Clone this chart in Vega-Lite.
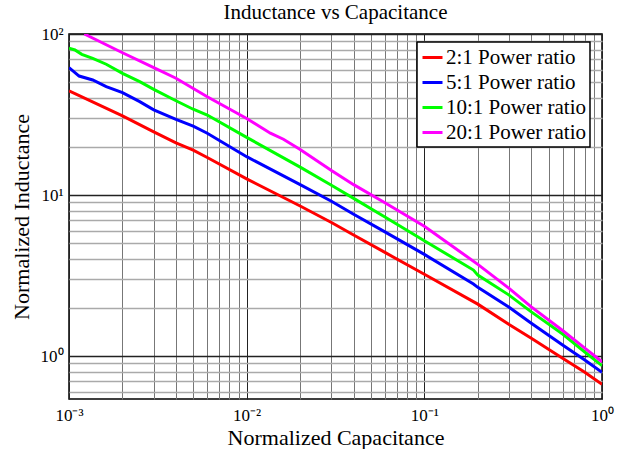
{
  "$schema": "https://vega.github.io/schema/vega-lite/v6.json",
  "autosize": "none",
  "width": 533,
  "height": 365,
  "padding": {"left": 69, "top": 34, "right": 26, "bottom": 50},
  "background": "white",
  "title": {"text": "Inductance vs Capacitance", "font": "Liberation Serif", "fontSize": 21, "fontWeight": "normal", "color": "#000", "anchor": "middle", "offset": 2},
  "config": {
    "view": {"stroke": "#000", "strokeWidth": 1.5},
    "legend": {"strokeWidth": 1.5},
    "axis": {"labelFont": "Liberation Serif", "titleFont": "Liberation Serif", "labelColor": "#000", "titleColor": "#000", "titleFontWeight": "normal", "domain": false, "ticks": false}
  },
  "data": {"values": [
    {"C": 0.001, "L": 44.3, "series": "2:1 Power ratio"},
    {"C": 0.002, "L": 31.0, "series": "2:1 Power ratio"},
    {"C": 0.003, "L": 24.7, "series": "2:1 Power ratio"},
    {"C": 0.004, "L": 21.1, "series": "2:1 Power ratio"},
    {"C": 0.005, "L": 19.0, "series": "2:1 Power ratio"},
    {"C": 0.006, "L": 17.1, "series": "2:1 Power ratio"},
    {"C": 0.01, "L": 12.6, "series": "2:1 Power ratio"},
    {"C": 0.02, "L": 8.55, "series": "2:1 Power ratio"},
    {"C": 0.03, "L": 6.75, "series": "2:1 Power ratio"},
    {"C": 0.04, "L": 5.65, "series": "2:1 Power ratio"},
    {"C": 0.06, "L": 4.4, "series": "2:1 Power ratio"},
    {"C": 0.1, "L": 3.22, "series": "2:1 Power ratio"},
    {"C": 0.2, "L": 2.1, "series": "2:1 Power ratio"},
    {"C": 0.3, "L": 1.57, "series": "2:1 Power ratio"},
    {"C": 0.4, "L": 1.29, "series": "2:1 Power ratio"},
    {"C": 0.6, "L": 0.968, "series": "2:1 Power ratio"},
    {"C": 0.8, "L": 0.792, "series": "2:1 Power ratio"},
    {"C": 1.0, "L": 0.667, "series": "2:1 Power ratio"},
    {"C": 0.001, "L": 61.8, "series": "5:1 Power ratio"},
    {"C": 0.00114, "L": 54.8, "series": "5:1 Power ratio"},
    {"C": 0.00136, "L": 51.8, "series": "5:1 Power ratio"},
    {"C": 0.00162, "L": 47.1, "series": "5:1 Power ratio"},
    {"C": 0.002, "L": 43.2, "series": "5:1 Power ratio"},
    {"C": 0.0025, "L": 38.0, "series": "5:1 Power ratio"},
    {"C": 0.003, "L": 33.8, "series": "5:1 Power ratio"},
    {"C": 0.004, "L": 29.5, "series": "5:1 Power ratio"},
    {"C": 0.005, "L": 26.8, "series": "5:1 Power ratio"},
    {"C": 0.006, "L": 24.2, "series": "5:1 Power ratio"},
    {"C": 0.01, "L": 17.3, "series": "5:1 Power ratio"},
    {"C": 0.02, "L": 11.6, "series": "5:1 Power ratio"},
    {"C": 0.03, "L": 9.15, "series": "5:1 Power ratio"},
    {"C": 0.04, "L": 7.6, "series": "5:1 Power ratio"},
    {"C": 0.06, "L": 5.9, "series": "5:1 Power ratio"},
    {"C": 0.1, "L": 4.28, "series": "5:1 Power ratio"},
    {"C": 0.189, "L": 2.8, "series": "5:1 Power ratio"},
    {"C": 0.2, "L": 2.67, "series": "5:1 Power ratio"},
    {"C": 0.3, "L": 2.01, "series": "5:1 Power ratio"},
    {"C": 0.4, "L": 1.6, "series": "5:1 Power ratio"},
    {"C": 0.6, "L": 1.17, "series": "5:1 Power ratio"},
    {"C": 0.8, "L": 0.944, "series": "5:1 Power ratio"},
    {"C": 1.0, "L": 0.792, "series": "5:1 Power ratio"},
    {"C": 0.001, "L": 81.5, "series": "10:1 Power ratio"},
    {"C": 0.00108, "L": 79.6, "series": "10:1 Power ratio"},
    {"C": 0.00118, "L": 74.8, "series": "10:1 Power ratio"},
    {"C": 0.00136, "L": 70.6, "series": "10:1 Power ratio"},
    {"C": 0.00162, "L": 64.9, "series": "10:1 Power ratio"},
    {"C": 0.002, "L": 57.0, "series": "10:1 Power ratio"},
    {"C": 0.0025, "L": 50.6, "series": "10:1 Power ratio"},
    {"C": 0.003, "L": 45.3, "series": "10:1 Power ratio"},
    {"C": 0.004, "L": 38.5, "series": "10:1 Power ratio"},
    {"C": 0.005, "L": 34.1, "series": "10:1 Power ratio"},
    {"C": 0.006, "L": 31.4, "series": "10:1 Power ratio"},
    {"C": 0.01, "L": 22.8, "series": "10:1 Power ratio"},
    {"C": 0.02, "L": 14.9, "series": "10:1 Power ratio"},
    {"C": 0.03, "L": 11.5, "series": "10:1 Power ratio"},
    {"C": 0.04, "L": 9.53, "series": "10:1 Power ratio"},
    {"C": 0.06, "L": 7.31, "series": "10:1 Power ratio"},
    {"C": 0.1, "L": 5.2, "series": "10:1 Power ratio"},
    {"C": 0.189, "L": 3.42, "series": "10:1 Power ratio"},
    {"C": 0.2, "L": 3.18, "series": "10:1 Power ratio"},
    {"C": 0.3, "L": 2.39, "series": "10:1 Power ratio"},
    {"C": 0.4, "L": 1.88, "series": "10:1 Power ratio"},
    {"C": 0.6, "L": 1.37, "series": "10:1 Power ratio"},
    {"C": 0.8, "L": 1.06, "series": "10:1 Power ratio"},
    {"C": 1.0, "L": 0.871, "series": "10:1 Power ratio"},
    {"C": 0.00122, "L": 100, "series": "20:1 Power ratio"},
    {"C": 0.002, "L": 76.5, "series": "20:1 Power ratio"},
    {"C": 0.003, "L": 61.8, "series": "20:1 Power ratio"},
    {"C": 0.004, "L": 53.1, "series": "20:1 Power ratio"},
    {"C": 0.006, "L": 40.8, "series": "20:1 Power ratio"},
    {"C": 0.01, "L": 29.9, "series": "20:1 Power ratio"},
    {"C": 0.0136, "L": 24.2, "series": "20:1 Power ratio"},
    {"C": 0.0161, "L": 22.2, "series": "20:1 Power ratio"},
    {"C": 0.02, "L": 19.2, "series": "20:1 Power ratio"},
    {"C": 0.03, "L": 14.2, "series": "20:1 Power ratio"},
    {"C": 0.04, "L": 11.6, "series": "20:1 Power ratio"},
    {"C": 0.06, "L": 8.96, "series": "20:1 Power ratio"},
    {"C": 0.1, "L": 6.4, "series": "20:1 Power ratio"},
    {"C": 0.2, "L": 3.71, "series": "20:1 Power ratio"},
    {"C": 0.3, "L": 2.63, "series": "20:1 Power ratio"},
    {"C": 0.4, "L": 2.02, "series": "20:1 Power ratio"},
    {"C": 0.6, "L": 1.44, "series": "20:1 Power ratio"},
    {"C": 0.8, "L": 1.12, "series": "20:1 Power ratio"},
    {"C": 1.0, "L": 0.922, "series": "20:1 Power ratio"}
  ]},
  "mark": {"type": "line", "strokeWidth": 3, "clip": true},
  "encoding": {
    "x": {
      "field": "C", "type": "quantitative",
      "scale": {"type": "log", "domain": [0.001, 1], "nice": false},
      "axis": {
        "title": "Normalized Capacitance", "titleFontSize": 22, "titlePadding": 4,
        "labelFontSize": 17, "labelPadding": 8, "labelFlush": false, "labelOverlap": false,
        "values": [0.001,0.002,0.003,0.004,0.005,0.006,0.007,0.008,0.009,0.01,0.02,0.03,0.04,0.05,0.06,0.07,0.08,0.09,0.1,0.2,0.3,0.4,0.5,0.6,0.7,0.8,0.9,1],
        "labelExpr": "datum.value == 0.001 ? '10⁻³' : datum.value == 0.01 ? '10⁻²' : datum.value == 0.1 ? '10⁻¹' : datum.value == 1 ? '10⁰' : ''",
        "grid": true,
        "gridColor": {"condition": {"test": "indexof([0.001,0.01,0.1,1], datum.value) >= 0", "value": "#222222"}, "value": "#777777"},
        "gridWidth": 1, "gridOpacity": 1
      }
    },
    "y": {
      "field": "L", "type": "quantitative",
      "scale": {"type": "log", "domain": [0.541, 100], "nice": false},
      "axis": {
        "title": "Normalized Inductance", "titleFontSize": 22, "titlePadding": 7,
        "labelFontSize": 17, "labelPadding": 6, "labelFlush": false, "labelOverlap": false,
        "values": [0.6,0.7,0.8,0.9,1,2,3,4,5,6,7,8,9,10,20,30,40,50,60,70,80,90,100],
        "labelExpr": "datum.value == 1 ? '10⁰' : datum.value == 10 ? '10¹' : datum.value == 100 ? '10²' : ''",
        "grid": true,
        "gridColor": {"condition": {"test": "indexof([1,10,100], datum.value) >= 0", "value": "#222222"}, "value": "#aaaaaa"},
        "gridWidth": 1.3,
        "gridOpacity": 1
      }
    },
    "color": {
      "field": "series", "type": "nominal",
      "scale": {"domain": ["2:1 Power ratio", "5:1 Power ratio", "10:1 Power ratio", "20:1 Power ratio"], "range": ["#ff0000", "#0000ff", "#00ff00", "#ff00ff"]},
      "legend": {
        "title": null, "orient": "none", "legendX": 348, "legendY": 8,
        "fillColor": "white", "strokeColor": "#000", "padding": 4,
        "symbolType": "stroke", "symbolSize": 400, "symbolStrokeWidth": 3, "symbolOffset": 0,
        "labelFont": "Liberation Serif", "labelFontSize": 21, "labelColor": "#000", "labelOffset": 2,
        "rowPadding": 3, "labelLimit": 300
      }
    }
  }
}
